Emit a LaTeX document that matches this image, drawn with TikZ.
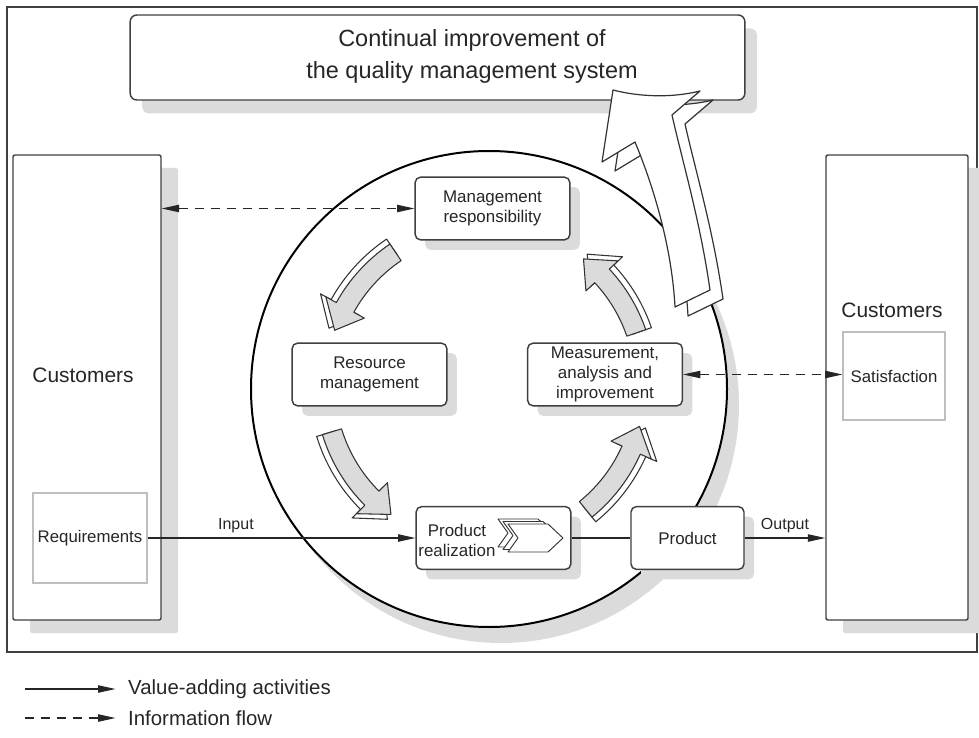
\documentclass[tikz,border=0pt]{standalone}
\usepackage{fontspec}
\setmainfont{Liberation Sans}
\usetikzlibrary{arrows.meta,shadows,calc}

\begin{document}
\begin{tikzpicture}[
  x=0.75pt, y=-0.75pt,
  every node/.style={text=black!85},
  box/.style={draw=black!75, line width=1.1pt, fill=white, rounded corners=4pt, inner sep=2pt, align=center},
  proc/.style={box, minimum width=116pt, minimum height=47pt, font=\fontsize{12.7}{15}\selectfont,
    drop shadow={shadow xshift=7.5pt, shadow yshift=-7.5pt, fill=black!14, opacity=1}},
  cust/.style={box, rounded corners=1.5pt, minimum height=348.75pt,
    drop shadow={shadow xshift=12.75pt, shadow yshift=-9.75pt, fill=black!14, opacity=1}},
  inbox/.style={draw=black!25, line width=0.8pt, fill=white, font=\fontsize{12.6}{15}\selectfont},
  big/.style={font=\fontsize{15.7}{19}\selectfont},
  lab/.style={font=\fontsize{12}{14}\selectfont},
  flow/.style={-{Triangle[length=13pt,width=5.5pt]}, line width=0.8pt, black!85},
  info/.style={flow, dash pattern=on 7pt off 5pt},
  infotw/.style={info, {Triangle[length=13pt,width=5.5pt]}-{Triangle[length=13pt,width=5.5pt]}},
  cyc/.style={draw=black!80, line width=0.8pt, line join=round},
  bigarr/.style={draw=black!80, line width=0.9pt, fill=white, line join=round},
  chev/.style={draw=black!80, line width=0.7pt, fill=white, line join=round}
]
\useasboundingbox (0,0) rectangle (979,738);

% ---------------- frame and title ----------------
\draw[black!75, line width=0.8pt] (7,7) rectangle (977,652);

\node[box, rounded corners=5pt, minimum width=461pt, minimum height=63.75pt,
  drop shadow={shadow xshift=9pt, shadow yshift=-10pt, fill=black!14, opacity=1}] (title) at (437.5,57.5) {};
\node[font=\fontsize{17.6}{24}\selectfont, align=center] (titletxt) at (472,56)
  {Continual improvement of\\the quality management system};

% ---------------- process circle ----------------
\draw[line width=1.5pt, fill=white,
  drop shadow={shadow xshift=9pt, shadow yshift=-12pt, fill=black!14, opacity=1}] (489,389) circle[radius=238];

% ---------------- customers ----------------
\node[cust, minimum width=111pt] (custL) at (87,387.5) {};
\node[big] (custLtxt) at (83,375) {Customers};
\node[inbox, minimum width=85.5pt, minimum height=67.5pt] (req) at (90,538) {Requirements};

\node[cust, minimum width=106.5pt] (custR) at (897,387.5) {};
\node[big] (custRtxt) at (892,310) {Customers};
\node[inbox, minimum width=76.5pt, minimum height=66pt] (sat) at (894,376) {Satisfaction};

% cycle arrows
\begin{scope}[shift={(485,385)}]
\foreach \s/\e in {-124/-160, -197/-234, -309/-345, -19/-52} {
  \pgfmathsetmacro{\h}{\e+9}
  \foreach \o/\f in {6/white, 0/black!14} {
    \pgfmathsetmacro{\ri}{150+\o}
    \pgfmathsetmacro{\ro}{170+\o}
    \pgfmathsetmacro{\hi}{138+\o}
    \pgfmathsetmacro{\hr}{182+\o}
    \pgfmathsetmacro{\tp}{160+\o}
    \draw[cyc, fill=\f] (\s:\ri) arc[start angle=\s, end angle=\h, radius=\ri]
      -- (\h:\hi) -- (\e:\tp) -- (\h:\hr) -- (\h:\ro)
      arc[start angle=\h, end angle=\s, radius=\ro] -- cycle;
  }
}
\end{scope}

% improvement arrow, back face then front face
\foreach \dx/\dy in {13/9, 0/0}
  \draw[bigarr, shift={(\dx,\dy)}] (613,90) -- (602,162) -- (635,142)
    .. controls (655,190) and (672,250) .. (675,307) -- (710,290)
    .. controls (700,220) and (682,160) .. (672,115) -- (700,91)
    .. controls (672,98) and (640,97) .. (613,90) -- cycle;

% ---------------- process boxes ----------------
\node[proc] (mgmt) at (492.5,208.5) {Management\\responsibility};
\node[proc] (res) at (369.5,374.5) {Resource\\management};
\node[proc] (meas) at (605,374.5) {Measurement,\\analysis and\\improvement};
\node[proc] (prodreal) at (493.5,538) {};
\node[font=\fontsize{12.7}{15}\selectfont, align=center] (prtxt) at (457,540) {Product\\realization};
\foreach \k in {10,5,0}
  \draw[chev, shift={({-\k},{-\k/2})}] (508,524) -- (548,524) -- (563,538) -- (548,552) -- (508,552) -- (518,538) -- cycle;
\node[proc, minimum width=84.75pt] (product) at (687.5,538) {Product};

% ---------------- connectors ----------------
\draw[infotw] (custL.east |- mgmt) -- (mgmt.west);
\draw[infotw] (meas.east) -- (meas.east -| sat.west);
\draw[flow] (req.east) -- node[lab, above, pos=0.33] {Input} (prodreal.west);
\draw[line width=0.8pt, black!85] (prodreal.east) -- (product.west);
\draw[flow] (product.east) -- node[lab, above] {Output} (custR.west |- product);

% ---------------- legend ----------------
\coordinate (lvA) at (25,689);
\coordinate (liA) at (25,718);
\node[anchor=west, font=\fontsize{15.3}{18}\selectfont] (lval) at (123.5,689) {Value-adding activities};
\node[anchor=west, font=\fontsize{15.3}{18}\selectfont] (linf) at (123.5,718) {Information flow};
\draw[flow, shorten >=6pt] (lvA) -- (lval.west);
\draw[info, shorten >=6pt] (liA) -- (linf.west);

\end{tikzpicture}
\end{document}
